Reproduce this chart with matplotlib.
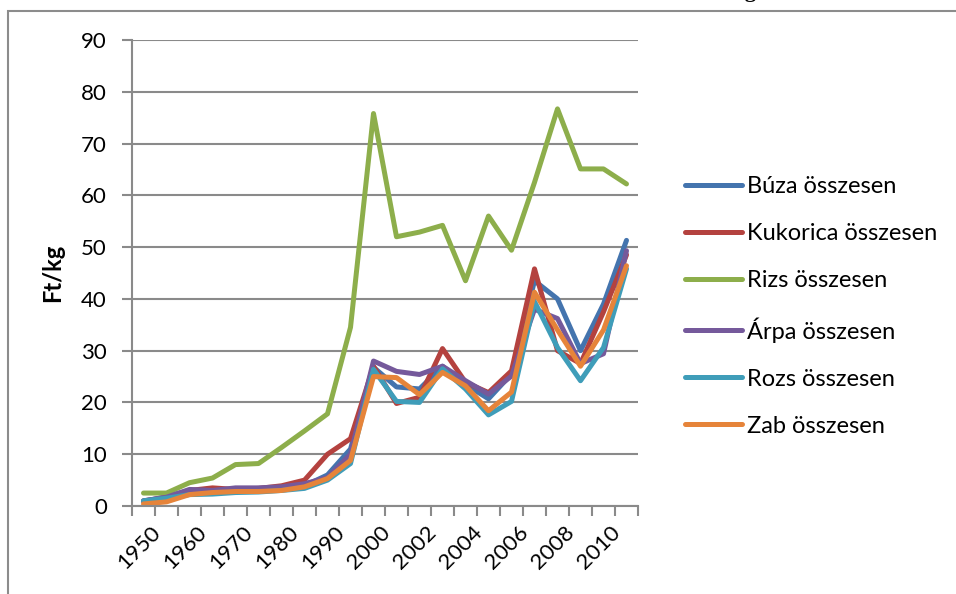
import matplotlib
matplotlib.use('Agg')
import matplotlib.pyplot as plt
from matplotlib.patches import Rectangle
from matplotlib.lines import Line2D

# categories: 5-year steps up to 2000, then yearly
years = ['1950', '1955', '1960', '1965', '1970', '1975', '1980', '1985', '1990', '1995',
         '2000', '2001', '2002', '2003', '2004', '2005', '2006', '2007', '2008', '2009',
         '2010', '2011']

buza = [0.9, 1.8, 3.0, 2.9, 3.2, 3.2, 3.4, 3.9, 6.0, 11.0, 26.8, 23.0, 22.6, 27.0,
        23.5, 20.7, 25.5, 43.5, 40.0, 30.0, 39.0, 51.3]
kukorica = [1.0, 1.6, 3.0, 3.5, 3.2, 3.4, 3.9, 5.0, 10.0, 13.0, 27.0, 19.8, 21.0, 30.4,
            23.9, 21.9, 26.1, 45.8, 30.0, 27.5, 37.5, 48.5]
rizs = [2.5, 2.5, 4.5, 5.4, 8.0, 8.2, 11.3, 14.5, 17.8, 34.5, 75.8, 52.0, 52.9, 54.2,
        43.5, 56.0, 49.4, 62.5, 76.7, 65.1, 65.1, 62.2]
arpa = [1.0, 1.7, 3.2, 3.0, 3.5, 3.5, 3.7, 4.3, 5.5, 10.0, 28.0, 26.0, 25.4, 27.0,
        24.2, 21.6, 25.1, 38.0, 36.2, 27.5, 29.4, 49.3]
rozs = [1.0, 1.5, 2.2, 2.3, 2.6, 2.7, 3.0, 3.4, 5.0, 8.2, 26.4, 20.2, 20.0, 26.5,
        22.6, 17.6, 20.2, 39.5, 30.6, 24.2, 30.6, 45.8]
zab = [0.4, 0.8, 2.2, 2.6, 2.8, 2.8, 3.0, 3.7, 5.3, 8.8, 25.0, 24.8, 21.5, 25.8,
       23.2, 18.4, 22.0, 41.3, 34.0, 27.0, 34.0, 46.4]

series = [
    ('Búza összesen', buza, '#4474AE'),
    ('Kukorica összesen', kukorica, '#B4423F'),
    ('Rizs összesen', rizs, '#8DAE4B'),
    ('Árpa összesen', arpa, '#75599B'),
    ('Rozs összesen', rozs, '#3F9DB9'),
    ('Zab összesen', zab, '#E6843A'),
]

plt.rcParams['font.family'] = ['Lato', 'DejaVu Sans']

fig = plt.figure(figsize=(9.56, 5.94), dpi=100)
ax = fig.add_axes([132 / 956, 1 - 506 / 594, (638 - 132) / 956, (506 - 40) / 594])

x = list(range(len(years)))
for name, vals, col in series:
    ax.plot(x, vals, color=col, lw=3.6, label=name, solid_joinstyle='round',
            solid_capstyle='round')

grid_col = '#8A8A8A'
ax.set_ylim(0, 90)
ax.set_yticks(range(0, 91, 10))
ax.set_xlim(-0.5, len(years) - 0.5)
# label anchors sit a little right of the category centre, like Excel's rotated labels
ax.set_xticks([i + 0.3 for i in x[::2]])
ax.set_xticklabels(years[::2], rotation=45, ha='right', va='top',
                   rotation_mode='anchor', fontsize=16)
ax.set_xticks([i - 0.5 for i in range(len(years) + 1)], minor=True)
ax.tick_params(axis='x', which='major', length=0, pad=12)
ax.tick_params(axis='x', which='minor', length=7, color=grid_col, width=1.5)
ax.tick_params(axis='y', length=7, color=grid_col, width=1.5, pad=11, labelsize=16)
ax.yaxis.grid(True, color=grid_col, lw=1.5)
ax.set_axisbelow(True)
for s in ['top', 'right']:
    ax.spines[s].set_visible(False)
for s in ['left', 'bottom']:
    ax.spines[s].set_color(grid_col)
    ax.spines[s].set_linewidth(1.5)

ax.set_ylabel('Ft/kg', fontsize=17, fontweight='bold', labelpad=12)

handles = [Line2D([0], [0], color=c, lw=3.6, solid_capstyle='round') for _, _, c in series]
fig.legend(handles, [n for n, _, _ in series], loc='upper left',
           bbox_to_anchor=(664 / 956, 1 - 155 / 594), frameon=False, fontsize=17,
           handlelength=2.4, handletextpad=0.2, labelspacing=1.1)

# outer chart border and cut-off title
fig.patches.append(Rectangle((8 / 956, -0.1), 1.2, 1 - 11 / 594 + 0.1,
                             transform=fig.transFigure, fill=False,
                             edgecolor='#8C8C8C', lw=1.5))
fig.text(757 / 956, 1 + 3 / 594, 'Ft/kg', ha='right', va='baseline', fontsize=16,
         fontweight='bold', family='Liberation Serif')

fig.savefig('out.png', dpi=100)
